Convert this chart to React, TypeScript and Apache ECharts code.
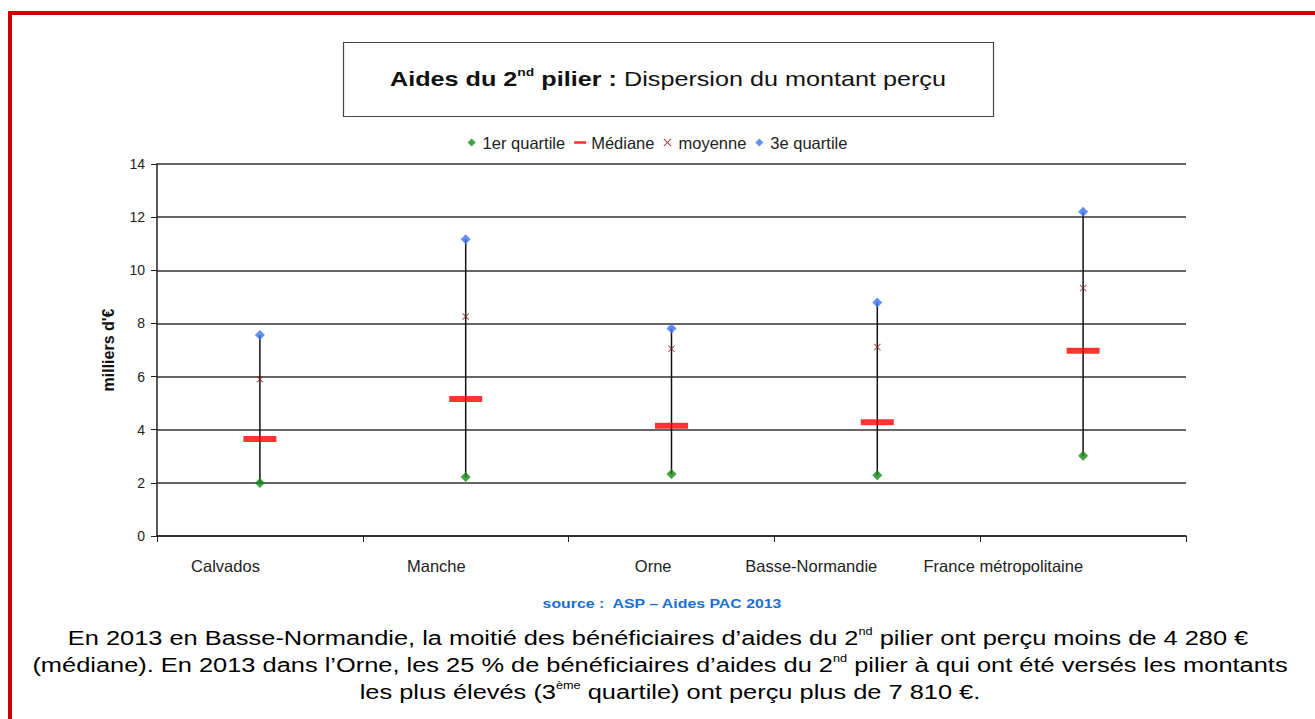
import React, { useEffect, useRef } from 'react';
import * as echarts from 'echarts';

const categories = ['Calvados', 'Manche', 'Orne', 'Basse-Normandie', 'France métropolitaine'];
const q1Values = [1.99, 2.22, 2.33, 2.29, 3.02];
const medianValues = [3.65, 5.16, 4.15, 4.28, 6.97];
const meanValues = [5.9, 8.26, 7.05, 7.11, 9.33];
const q3Values = [7.56, 11.17, 7.81, 8.79, 12.2];
const yMin = 0;
const yMax = 14;
const yInterval = 2;

const FONT = '"Liberation Sans", Arial, sans-serif';
const X_PATH = 'path://M0,1L1,0L5,4L9,0L10,1L6,5L10,9L9,10L5,6L1,10L0,9L4,5Z';
const DIAMOND_PATH = 'path://M5,0L10,5L5,10L0,5Z';
const STRETCH = 1.27;

export default function App() {
  const ref = useRef<HTMLDivElement>(null);
  useEffect(() => {
    if (!ref.current) return;
    const chart = echarts.init(ref.current, undefined, { renderer: 'svg' });
    const whiskerData = categories.map((c, i) => [i, q1Values[i], q3Values[i]]);
    const paraRich = {
      n: { fontFamily: FONT, fontSize: 20, fill: '#000', lineHeight: 24 },
      s: { fontFamily: FONT, fontSize: 10, fill: '#000', verticalAlign: 'top', lineHeight: 12 },
    };
    const option: any = {
      animation: false,
      backgroundColor: '#ffffff',
      textStyle: { fontFamily: FONT },
      grid: { left: 157, right: 129, top: 164, bottom: 183, containLabel: false },
      legend: {
        top: 129,
        left: 'center',
        itemWidth: 12,
        itemHeight: 8,
        itemGap: 9,
        symbolKeepAspect: true,
        textStyle: { fontFamily: FONT, fontSize: 16.5, color: '#222' },
        data: [
          { name: '1er quartile', icon: DIAMOND_PATH },
          { name: 'Médiane', icon: 'path://M0,0H14V3H0Z' },
          { name: 'moyenne', icon: X_PATH },
          { name: '3e quartile', icon: DIAMOND_PATH },
        ],
      },
      xAxis: {
        type: 'category',
        data: categories,
        boundaryGap: true,
        axisLine: { show: true, lineStyle: { color: '#222', width: 1.5 } },
        axisTick: { show: true, length: 6, lineStyle: { color: '#222', width: 1 } },
        axisLabel: {
          align: 'right',
          margin: 21,
          fontFamily: FONT,
          fontSize: 16.5,
          color: '#222',
          interval: 0,
        },
        splitLine: { show: false },
      },
      yAxis: {
        type: 'value',
        min: yMin,
        max: yMax,
        interval: yInterval,
        name: "milliers d'€",
        nameLocation: 'middle',
        nameGap: 41,
        nameRotate: 90,
        nameTextStyle: { fontFamily: FONT, fontSize: 16, fontWeight: 'bold', color: '#111' },
        axisLine: { show: true, lineStyle: { color: '#222', width: 1.5 } },
        axisTick: { show: true, length: 6, lineStyle: { color: '#222', width: 1 } },
        axisLabel: { margin: 12, fontFamily: FONT, fontSize: 14, color: '#222' },
        splitLine: { show: true, lineStyle: { color: '#333', width: 1.5 } },
      },
      series: [
        {
          type: 'custom',
          name: 'range',
          data: whiskerData,
          encode: { x: 0, y: [1, 2] },
          silent: true,
          z: 2,
          renderItem: (params: any, api: any) => {
            const x = api.value(0);
            const p1 = api.coord([x, api.value(1)]);
            const p2 = api.coord([x, api.value(2)]);
            return {
              type: 'line',
              shape: { x1: p1[0], y1: p1[1], x2: p2[0], y2: p2[1] },
              style: { stroke: '#111', lineWidth: 1.5 },
            };
          },
        },
        {
          type: 'scatter',
          name: 'Médiane',
          data: medianValues,
          symbol: 'rect',
          symbolSize: [33, 6],
          itemStyle: { color: '#ff0000' },
          z: 3,
        },
        {
          type: 'scatter',
          name: 'moyenne',
          data: meanValues,
          symbol: X_PATH,
          symbolSize: 7,
          itemStyle: { color: '#8b2525' },
          z: 4,
        },
        {
          type: 'scatter',
          name: '1er quartile',
          data: q1Values,
          symbol: 'diamond',
          symbolSize: 10,
          itemStyle: { color: '#138a13' },
          z: 5,
        },
        {
          type: 'scatter',
          name: '3e quartile',
          data: q3Values,
          symbol: 'diamond',
          symbolSize: 10,
          itemStyle: { color: '#3f74f0' },
          z: 5,
        },
      ],
      graphic: [
        {
          type: 'rect',
          shape: { x: 10, y: 13, width: 1400, height: 800 },
          style: { fill: 'none', stroke: '#cc0000', lineWidth: 4 },
          silent: true,
          z: 0,
        },
        {
          type: 'rect',
          shape: { x: 343.5, y: 42.5, width: 650, height: 74 },
          style: { fill: '#fff', stroke: '#444', lineWidth: 1.2 },
          z: 0,
        },
        {
          type: 'text',
          x: 668,
          y: 79,
          scaleX: 1.26,
          style: {
            text: '{b|Aides du 2}{bs|nd}{b| pilier : }{n|Dispersion du montant perçu}',
            align: 'center',
            verticalAlign: 'middle',
            rich: {
              b: { fontFamily: FONT, fontSize: 20, fontWeight: 'bold', fill: '#111', lineHeight: 24 },
              bs: { fontFamily: FONT, fontSize: 11, fontWeight: 'bold', fill: '#111', verticalAlign: 'top', lineHeight: 12 },
              n: { fontFamily: FONT, fontSize: 20, fill: '#111', lineHeight: 24 },
            },
          },
          z: 10,
        },
        {
          type: 'text',
          x: 662,
          y: 604,
          scaleX: 1.22,
          style: {
            text: 'source :  ASP – Aides PAC 2013',
            align: 'center',
            verticalAlign: 'middle',
            fontFamily: FONT,
            fontSize: 13,
            fontWeight: 'bold',
            fill: '#1a6fd0',
          },
        },
        {
          type: 'text',
          x: 658,
          y: 638,
          scaleX: STRETCH,
          style: {
            text: "{n|En 2013 en Basse-Normandie, la moitié des bénéficiaires d’aides du 2}{s|nd}{n| pilier ont perçu moins de 4 280 €}",
            align: 'center',
            verticalAlign: 'middle',
            rich: paraRich,
          },
        },
        {
          type: 'text',
          x: 660,
          y: 665,
          scaleX: STRETCH,
          style: {
            text: "{n|(médiane). En 2013 dans l’Orne, les 25 % de bénéficiaires d’aides du 2}{s|nd}{n| pilier à qui ont été versés les montants}",
            align: 'center',
            verticalAlign: 'middle',
            rich: paraRich,
          },
        },
        {
          type: 'text',
          x: 670,
          y: 692,
          scaleX: STRETCH,
          style: {
            text: "{n|les plus élevés (3}{s|ème}{n| quartile) ont perçu plus de 7 810 €.}",
            align: 'center',
            verticalAlign: 'middle',
            rich: paraRich,
          },
        },
      ],
    };
    chart.setOption(option);
    return () => chart.dispose();
  }, []);
  return (
    <div
      ref={ref}
      style={{ position: 'absolute', left: 0, top: 0, width: 1315, height: 719 }}
    />
  );
}
